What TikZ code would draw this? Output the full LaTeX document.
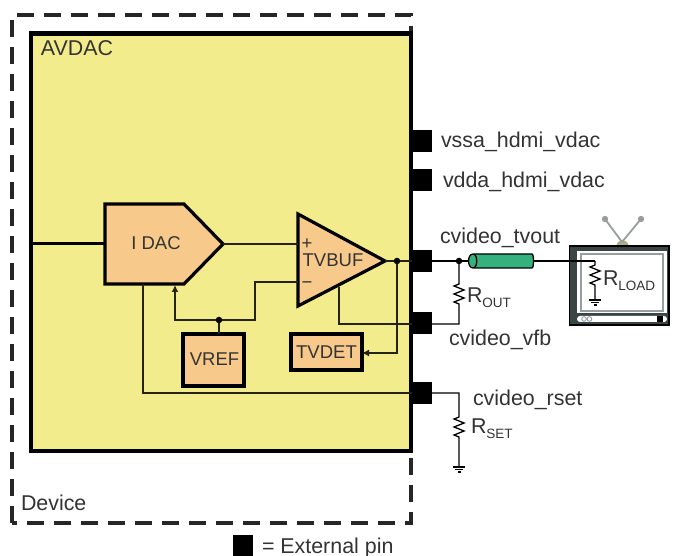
\documentclass[tikz,border=0pt]{standalone}
\usepackage{fontspec}
\setmainfont{Liberation Sans}
\usetikzlibrary{arrows.meta}
\definecolor{avyellow}{HTML}{F3EC8C}
\definecolor{blockor}{HTML}{F7C98A}
\definecolor{txtgray}{HTML}{333333}
\definecolor{coaxg}{HTML}{35B07F}
\definecolor{tvdark}{HTML}{3A4646}
\definecolor{antg}{HTML}{989E9E}
\definecolor{antb}{HTML}{B0AE84}
\newcommand{\bigtx}{\fontsize{21.4}{25}\selectfont}
\newcommand{\smtx}{\fontsize{18.5}{22}\selectfont}
\newcommand{\subtx}[1]{\raisebox{-5pt}{\fontsize{13.5}{16}\selectfont #1}}
\tikzset{
  lbl/.style={anchor=base west,inner sep=0pt,outer sep=0pt,text=txtgray,font=\bigtx},
  inlbl/.style={anchor=base,inner sep=0pt,outer sep=0pt,text=txtgray,font=\smtx},
  pin/.style={fill=black,draw=none,minimum width=20pt,minimum height=22pt,inner sep=0pt,outer sep=0pt},
  blk/.style={draw=black,line width=3.2pt,fill=blockor},
  boxn/.style={blk,inner sep=0pt,outer sep=0pt},
  wire/.style={line width=1.4pt,draw=black!85!avyellow},
  dotn/.style={circle,fill=black,inner sep=0pt,minimum size=6.5pt,outer sep=0pt},
  tip/.style={-{Latex[length=7pt,width=7pt]}}
}
\newcommand{\zigzag}{-- ++(-5,2) -- ++(10,4) -- ++(-10,4) -- ++(10,4) -- ++(-10,4) -- ++(5,2)}
\newcommand{\gnd}[1]{\draw[line width=1.3pt] (#1) ++(-6,0) -- ++(12,0) (#1) ++(-4,2.5) -- ++(8,0) (#1) ++(-1.5,5) -- ++(3,0);}
\begin{document}
\begin{tikzpicture}[x=1pt,y=-1pt]
\useasboundingbox (0,0) rectangle (673,556);
% device outline
\draw[line width=3.2pt,draw=black!85,dash pattern=on 17pt off 10pt] (12,523) -- (12,15) -- (411,15) -- (411,523) -- (12,523);
% AVDAC
\draw[fill=avyellow,line width=4.4pt] (31,33.5) rectangle (411,451);
\node[lbl] (avdac) at (41,56) {AVDAC};
\node[lbl] (device) at (21,510) {Device};
% pins
\node[pin] (pinvssa) at (422,141) {};
\node[pin] (pinvdda) at (422,180) {};
\node[pin] (pintv) at (422,261) {};
\node[pin] (pinvfb) at (422,323.5) {};
\node[pin] (pinrset) at (422,393) {};
\node[pin] (pinkey) at (243,545.5) {};
\node[lbl] (keytxt) at (262,553) {= External pin};
\node[lbl] at (441,148) {vssa\_hdmi\_vdac};
\node[lbl] at (443,188) {vdda\_hdmi\_vdac};
\node[lbl] at (440,244) {cvideo\_tvout};
\node[lbl] at (449,346) {cvideo\_vfb};
\node[lbl] at (473,406) {cvideo\_rset};
% I DAC
\coordinate (idacl) at (105,244);
\coordinate (idact) at (223,244);
\coordinate (idacb) at (143,284);
\coordinate (idacin) at (175,285);
\coordinate (leftin) at (31,243.5);
\draw[line width=2.2pt] (leftin) -- (idacl |- leftin);
\draw[blk,line join=miter] (105,204) -- (184,204) -- (223,244) -- (184,284) -- (105,284) -- cycle;
\node[inlbl] (idac) at (156,250) {I DAC};
% TVBUF
\coordinate (bufp) at (298,244);
\coordinate (bufm) at (298,282);
\coordinate (bufo) at (385,261);
\coordinate (bufs) at (339,287);
\draw[blk,line join=miter] (298,214) -- (385,261) -- (298,306) -- cycle;
\node[inlbl] (tvbuf) at (333,267) {TVBUF};
\node[inlbl] (plus) at (307,250) {+};
\node[inlbl] (minus) at (307,289) {−};
% boxes
\node[boxn,minimum width=61pt,minimum height=52pt,anchor=north west] (vref) at (183,334) {};
\node[inlbl] at (214.5,366) {VREF};
\node[boxn,minimum width=71pt,minimum height=36pt,anchor=north west] (tvdet) at (291,334) {};
\node[inlbl] at (326.5,359) {TVDET};
% internal wires
\draw[wire] (idact) -- (bufp);
\coordinate (j1) at (219,320);
\node[dotn] (dotref) at (j1) {};
\draw[wire] (vref.north -| j1) -- (dotref);
\draw[wire,tip] (dotref) -- (175,320) -- (idacin);
\draw[wire] (dotref) -- (255,320) -- (255,282) -- (bufm);
\node[dotn] (dotout) at (397,261) {};
\draw[wire] (bufo) -- (dotout) -- (pintv);
\draw[wire,tip] (dotout) -- (397,353) -- (tvdet.east |- 0,353);
\draw[wire] (bufs) -- (339,324) -- (pinvfb.west |- 0,324);
\draw[wire] (idacb) -- (143,393) -- (pinrset);
% coax and output
\node[dotn] (dottv) at (459,261) {};
\draw[wire,draw=black] (pintv) -- (dottv) -- (469,261);
% TV
\draw[fill=antb,draw=none] (616,246) -- (618,242) .. controls (621,240) and (624,240) .. (627,242) -- (629,246) -- cycle;
\draw[line width=1.8pt,antg] (622,242) -- (605,219);
\draw[line width=1.8pt,antg] (622,242) -- (641,219);
\fill[antg] (605,219) circle (3.2pt) (641,219) circle (3.2pt);
\draw[fill=tvdark,draw=black,line width=1.8pt] (569.5,246) rectangle (669,325);
\fill[white] (577,251) rectangle (667,313);
\draw[draw=antg,line width=1.4pt,fill=white] (581,254) rectangle (663,311);
\fill[white,rounded corners=3pt] (577,316) rectangle (667,322);
\fill[black] (657,316) rectangle (663,322);
\draw[antg,line width=.9pt,fill=white] (584,319) circle (2.3pt) (589.5,319) circle (2.3pt);
% wire to load, then coax on top
\draw[wire,draw=black] (533,261) -- (595,261);
\draw[fill=coaxg,draw=black,line width=1.3pt,rounded corners=3pt] (474,254) -- (529,254) .. controls (534,254) and (534,268) .. (529,268) -- (474,268);
\draw[fill=coaxg,draw=black,line width=1.3pt] (473,254) .. controls (467,254) and (467,268) .. (473,268) .. controls (478,268) and (478,254) .. (473,254);
\coordinate (rl) at (595,261);
\draw[line width=1.3pt,line join=miter] (rl) -- (595,265) \zigzag -- (595,300) coordinate (gl);
\gnd{gl}
\node[lbl] (rload) at (603,286) {R\subtx{LOAD}};
% R_OUT
\draw[line width=1.3pt] (dottv) -- (459,284) \zigzag -- (459,324) -- (pinvfb.east |- 0,324);
\node[lbl] (rout) at (467,303) {R\subtx{OUT}};
% R_SET
\draw[line width=1.3pt] (pinrset) -- (459,393) -- (459,417) \zigzag -- (459,467) coordinate (gs);
\gnd{gs}
\node[lbl] (rset) at (471,434) {R\subtx{SET}};
\end{tikzpicture}
\end{document}
